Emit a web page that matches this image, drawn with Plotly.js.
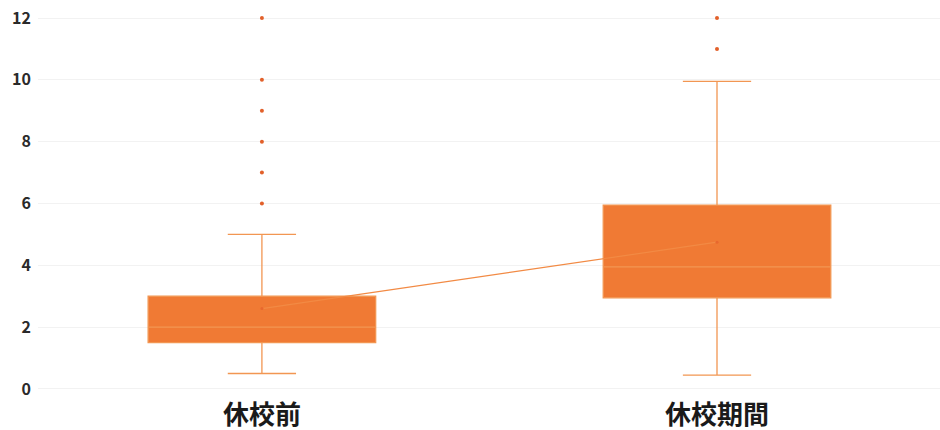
<!DOCTYPE html>
<html>
<head>
<meta charset="utf-8">
<script src="https://cdn.plot.ly/plotly-3.0.1.min.js"></script>
<style>html,body{margin:0;padding:0;background:#fff;}#chart{width:940px;height:430px;}</style>
</head>
<body>
<div id="chart"></div>
<script>
// Data
const categories = ['休校前', '休校期間'];
const lowerWhisker = [0.5, 0.45];
const q1Values = [1.5, 2.95];
const medianValues = [2.0, 3.95];
const q3Values = [3.0, 5.95];
const upperWhisker = [5.0, 9.95];
const meanValues = [2.6, 4.75];
const outliersBefore = [6, 7, 8, 9, 10, 12];
const outliersDuring = [11, 12];
const yTicks = [0, 2, 4, 6, 8, 10, 12];

const outX = [];
const outY = [];
outliersBefore.forEach(v => { outX.push(categories[0]); outY.push(v); });
outliersDuring.forEach(v => { outX.push(categories[1]); outY.push(v); });

const data = [
  {
    type: 'box',
    x: categories,
    q1: q1Values,
    median: medianValues,
    q3: q3Values,
    lowerfence: lowerWhisker,
    upperfence: upperWhisker,
    width: 0.5,
    whiskerwidth: 0.3,
    fillcolor: '#F07A34',
    line: { color: '#F29652', width: 1.3 },
    hoverinfo: 'skip',
    showlegend: false
  },
  {
    type: 'scatter',
    mode: 'lines+markers',
    x: categories,
    y: meanValues,
    line: { color: '#F28A44', width: 1.2 },
    marker: { color: '#E8682E', size: 3 },
    showlegend: false,
    hoverinfo: 'skip'
  },
  {
    type: 'scatter',
    mode: 'markers',
    x: outX,
    y: outY,
    marker: { color: '#E2602A', size: 4 },
    showlegend: false,
    hoverinfo: 'skip'
  }
];

const layout = {
  width: 940,
  height: 430,
  margin: { l: 38, r: 0, t: 10, b: 33 },
  paper_bgcolor: '#ffffff',
  plot_bgcolor: '#ffffff',
  font: { family: '"Noto Sans CJK JP", "Noto Sans", sans-serif', color: '#222' },
  xaxis: {
    type: 'category',
    range: [-0.492, 1.49],
    showgrid: false,
    zeroline: false,
    showline: false,
    ticks: '',
    tickfont: { size: 26, color: '#1a1a1a', weight: 'bold' },
    fixedrange: true
  },
  yaxis: {
    range: [-0.26, 12.26],
    tickvals: yTicks,
    ticktext: yTicks.map(String),
    showgrid: true,
    gridcolor: '#f2f2f2',
    gridwidth: 1,
    zeroline: false,
    showline: false,
    ticks: '',
    ticklabelstandoff: 6,
    tickfont: { size: 16, color: '#2a2a2a', weight: 600 },
    fixedrange: true
  }
};

Plotly.newPlot('chart', data, layout, { staticPlot: true, displayModeBar: false });
</script>
</body>
</html>
